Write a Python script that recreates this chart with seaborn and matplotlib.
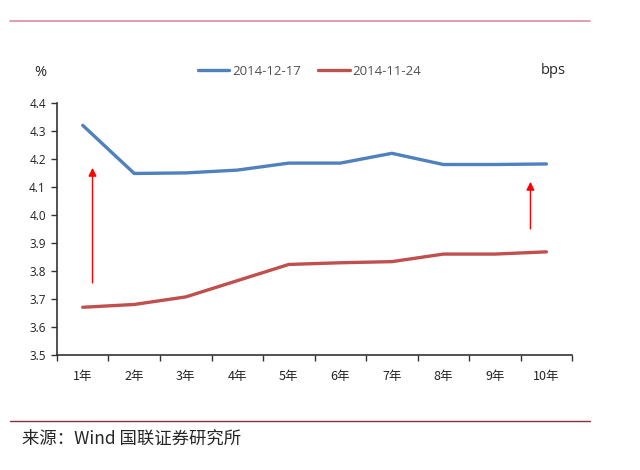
import numpy as np
import pandas as pd
import matplotlib
matplotlib.use('Agg')
import matplotlib.pyplot as plt
import seaborn as sns

# tenors and the two yield curves (%)
tenors = ['1年', '2年', '3年', '4年', '5年', '6年', '7年', '8年', '9年', '10年']
curve_1217 = [4.32, 4.148, 4.150, 4.160, 4.185, 4.185, 4.220, 4.180, 4.180, 4.182]
curve_1124 = [3.670, 3.680, 3.707, 3.765, 3.823, 3.829, 3.833, 3.860, 3.860, 3.868]
series_names = ['2014-12-17', '2014-11-24']
yticks = [3.5, 3.6, 3.7, 3.8, 3.9, 4.0, 4.1, 4.2, 4.3, 4.4]

# red arrows: (x position, start, end)
arrows = [(0.19, 3.757, 4.168), (8.69, 3.95, 4.118)]

sns.set_theme(style='white')
plt.rcParams['font.family'] = ['Open Sans', 'Noto Sans CJK SC', 'DejaVu Sans']

df = pd.DataFrame({
    'tenor': tenors * 2,
    'value': curve_1217 + curve_1124,
    'series': [series_names[0]] * len(tenors) + [series_names[1]] * len(tenors),
})

fig = plt.figure(figsize=(6.4, 4.7), dpi=100)
ax = fig.add_axes([0.089, 0.245, 0.805, 0.536])

sns.lineplot(data=df, x='tenor', y='value', hue='series', sort=False,
             palette=['#4F81BD', '#C0504D'], linewidth=2.4, ax=ax, legend=True)

for x, y0, y1 in arrows:
    ax.annotate('', xy=(x, y1), xytext=(x, y0),
                arrowprops=dict(arrowstyle='-|>', color='#FF0000', lw=1.0,
                                mutation_scale=12, shrinkA=0, shrinkB=0))

ax.set_xlim(-0.5, len(tenors) - 0.5)
ax.set_ylim(3.5, 4.4)
ax.set_yticks(yticks)
ax.set_yticklabels([f'{v:.1f}' for v in yticks], fontsize=8.5, color='#222222')
ax.set_xticks(range(len(tenors)))
ax.set_xticklabels(tenors, fontsize=9, family=['Noto Sans CJK SC'], color='#222222')
ax.set_xticks(np.arange(-0.5, len(tenors), 1), minor=True)
ax.tick_params(axis='x', which='major', length=0, pad=11)
ax.tick_params(axis='x', which='minor', length=4, width=1, color='#333333', direction='out', bottom=True)
ax.tick_params(axis='y', length=4, width=1, color='#333333', direction='out', left=True, pad=4)
ax.set_xlabel('')
ax.set_ylabel('')

for side in ['top', 'right']:
    ax.spines[side].set_visible(False)
for side in ['left', 'bottom']:
    ax.spines[side].set_color('#333333')
    ax.spines[side].set_linewidth(1.2)

leg = ax.legend(loc='center', bbox_to_anchor=(0.49, 1.125), ncol=2, frameon=False,
                fontsize=9.5, handlelength=2.4, handletextpad=0.2, columnspacing=1.3)
for t in leg.get_texts():
    t.set_color('#505050')

fig.text(40 / 640, 1 - 72 / 470, '%', fontsize=10.5, ha='center', va='center')
fig.text(553 / 640, 1 - 71 / 470, 'bps', fontsize=10.5, ha='center', va='center')

# decorative rules and source note
fig.add_artist(plt.Line2D([10 / 640, 590 / 640], [1 - 21 / 470, 1 - 21 / 470], color='#D98CA0', lw=1.2))
fig.add_artist(plt.Line2D([10 / 640, 590 / 640], [1 - 421 / 470, 1 - 421 / 470], color='#8B2E4A', lw=1.0))
fig.text(22 / 640, 1 - 439 / 470, '来源：Wind 国联证券研究所', fontsize=12.5, ha='left', va='center',
         family=['Noto Sans CJK SC', 'DejaVu Sans'])

fig.savefig('out.png', dpi=100)
